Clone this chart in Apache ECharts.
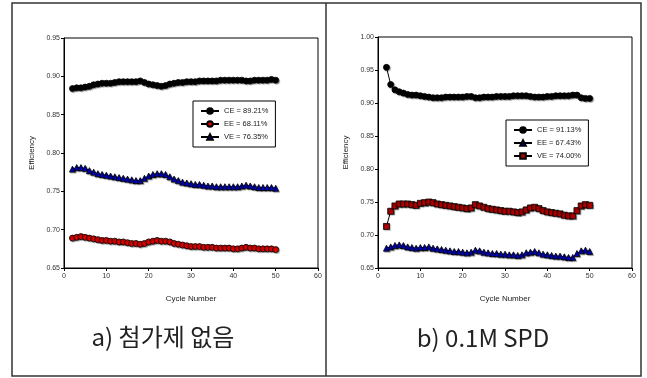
<!DOCTYPE html>
<html>
<head>
<meta charset="utf-8">
<script src="https://cdn.jsdelivr.net/npm/echarts@6/dist/echarts.min.js"></script>
<style>
  html, body { margin: 0; padding: 0; background: #fff; }
  #chart { width: 647px; height: 378px; }
</style>
</head>
<body>
<div id="chart"></div>
<script>
// cycle numbers 2..50
var cycles = [2,3,4,5,6,7,8,9,10,11,12,13,14,15,16,17,18,19,20,21,22,23,24,25,26,
  27,28,29,30,31,32,33,34,35,36,37,38,39,40,41,42,43,44,45,46,47,48,49,50];

// a) no additive
var ceA = [.884,.885,.885,.886,.887,.889,.890,.891,.891,.891,.892,.893,.893,.893,.893,.893,.894,.892,.890,.889,.888,.887,.888,.890,.891,
  .892,.892,.893,.893,.893,.894,.894,.894,.894,.894,.895,.895,.895,.895,.895,.895,.894,.894,.895,.895,.895,.895,.896,.895];
var eeA = [.689,.690,.691,.690,.689,.688,.687,.686,.686,.685,.685,.684,.684,.683,.682,.682,.681,.682,.684,.685,.686,.685,.685,.684,.682,
  .681,.680,.679,.678,.678,.678,.677,.677,.677,.676,.676,.676,.676,.675,.675,.676,.677,.676,.676,.675,.675,.675,.675,.674];
var veA = [.779,.781,.781,.780,.777,.775,.773,.772,.771,.770,.769,.768,.767,.766,.765,.764,.764,.767,.770,.772,.773,.773,.772,.769,.766,
  .764,.762,.761,.760,.759,.759,.758,.757,.757,.756,.756,.756,.756,.756,.756,.757,.758,.757,.756,.755,.755,.755,.755,.754];

// b) 0.1M SPD
var ceB = [.954,.928,.920,.917,.915,.913,.912,.912,.911,.910,.909,.908,.908,.908,.909,.909,.909,.909,.909,.910,.910,.908,.908,.909,.909,
  .909,.910,.910,.910,.910,.911,.911,.911,.911,.910,.909,.909,.909,.910,.910,.911,.911,.911,.911,.912,.912,.908,.907,.907];
var eeB = [.680,.682,.684,.685,.684,.682,.681,.680,.681,.681,.682,.680,.679,.678,.677,.676,.675,.675,.674,.673,.674,.677,.676,.674,.673,
  .672,.672,.671,.671,.670,.670,.669,.670,.673,.674,.675,.673,.671,.670,.669,.668,.668,.667,.666,.666,.672,.676,.677,.675];
var veB = [.713,.736,.744,.747,.747,.747,.746,.745,.748,.749,.750,.749,.747,.746,.745,.744,.743,.742,.741,.740,.741,.746,.744,.742,.740,
  .739,.738,.737,.736,.736,.735,.734,.735,.738,.741,.742,.740,.737,.735,.734,.733,.732,.730,.729,.729,.737,.744,.746,.745];

var namesA = ['CE = 89.21%', 'EE = 68.11%', 'VE = 76.35%'];
var namesB = ['CE = 91.13%', 'EE = 67.43%', 'VE = 74.00%'];
var xTicks = [0, 60, 10];

function pairs(ys) {
  var d = [];
  for (var i = 0; i < cycles.length; i++) {
    d.push([cycles[i], ys[i]]);
  }
  return d;
}

var FONT = 'Liberation Sans';

function makeX(idx) {
  return {
    gridIndex: idx, type: 'value', min: xTicks[0], max: xTicks[1], interval: xTicks[2],
    name: 'Cycle Number', nameLocation: 'middle', nameGap: 27,
    nameTextStyle: { fontFamily: FONT, fontSize: 8, color: '#222' },
    axisLine: { lineStyle: { color: '#000', width: 1 } },
    axisTick: { inside: false, length: 3, lineStyle: { color: '#000' } },
    axisLabel: { fontFamily: FONT, fontSize: 7, color: '#333', margin: 5 },
    splitLine: { show: false }
  };
}

function makeY(idx, min, max) {
  return {
    gridIndex: idx, type: 'value', min: min, max: max, interval: 0.05,
    name: 'Efficiency', nameLocation: 'middle', nameGap: 28,
    nameTextStyle: { fontFamily: FONT, fontSize: 8, color: '#222' },
    axisLine: { show: true, lineStyle: { color: '#000', width: 1 } },
    axisTick: { show: true, inside: false, length: 3, lineStyle: { color: '#000' } },
    axisLabel: { fontFamily: FONT, fontSize: 7, color: '#333', margin: 4,
      formatter: function (v) { return v.toFixed(2); } },
    splitLine: { show: false }
  };
}

function line(name, idx, ys, symbol, fill) {
  return {
    name: name, type: 'line', xAxisIndex: idx, yAxisIndex: idx,
    data: pairs(ys), symbol: symbol, symbolSize: 6,
    showAllSymbol: true,
    lineStyle: { color: '#000', width: 1 },
    itemStyle: { color: fill, borderColor: '#000', borderWidth: 0.8,
      shadowColor: 'rgba(0,0,0,0.35)', shadowBlur: 1, shadowOffsetX: 1, shadowOffsetY: 1 },
    emphasis: { disabled: true },
    animation: false
  };
}

var legendBase = {
  orient: 'vertical', itemWidth: 18, itemHeight: 7, itemGap: 5,
  borderColor: '#000', borderWidth: 1, padding: [6, 7, 6, 7],
  backgroundColor: '#fff',
  textStyle: { fontFamily: FONT, fontSize: 7.5, color: '#222' }
};

var option = {
  animation: false,
  grid: [
    { left: 64, top: 38, width: 254, height: 230, show: true, borderColor: '#000', borderWidth: 1 },
    { left: 378, top: 37, width: 254, height: 231, show: true, borderColor: '#000', borderWidth: 1 }
  ],
  xAxis: [makeX(0), makeX(1)],
  yAxis: [makeY(0, 0.65, 0.95), makeY(1, 0.65, 1.0)],
  legend: [
    Object.assign({}, legendBase, { data: namesA, left: 193, top: 101 }),
    Object.assign({}, legendBase, { data: namesB, left: 506, top: 120 })
  ],
  series: [
    line(namesA[0], 0, ceA, 'circle', '#000'),
    line(namesA[1], 0, eeA, 'circle', '#e00000'),
    line(namesA[2], 0, veA, 'triangle', '#0000c8'),
    line(namesB[0], 1, ceB, 'circle', '#000'),
    line(namesB[1], 1, eeB, 'triangle', '#0000c8'),
    line(namesB[2], 1, veB, 'rect', '#b00000')
  ],
  graphic: [
    { type: 'rect', shape: { x: 12, y: 3, width: 629, height: 373 },
      style: { fill: 'none', stroke: '#333', lineWidth: 1.5 }, silent: true },
    { type: 'line', shape: { x1: 326, y1: 3, x2: 326, y2: 376 },
      style: { stroke: '#333', lineWidth: 1.5 }, silent: true },
    { type: 'text', x: 163, y: 337,
      style: { text: 'a) 첨가제 없음', font: '24px "Noto Sans CJK KR"', fill: '#222',
        textAlign: 'center', textVerticalAlign: 'middle' } },
    { type: 'text', x: 483, y: 338,
      style: { text: 'b) 0.1M SPD', font: '24px "Noto Sans CJK KR"', fill: '#222',
        textAlign: 'center', textVerticalAlign: 'middle' } }
  ]
};

var chart = echarts.init(document.getElementById('chart'));
chart.setOption(option);
</script>
</body>
</html>
